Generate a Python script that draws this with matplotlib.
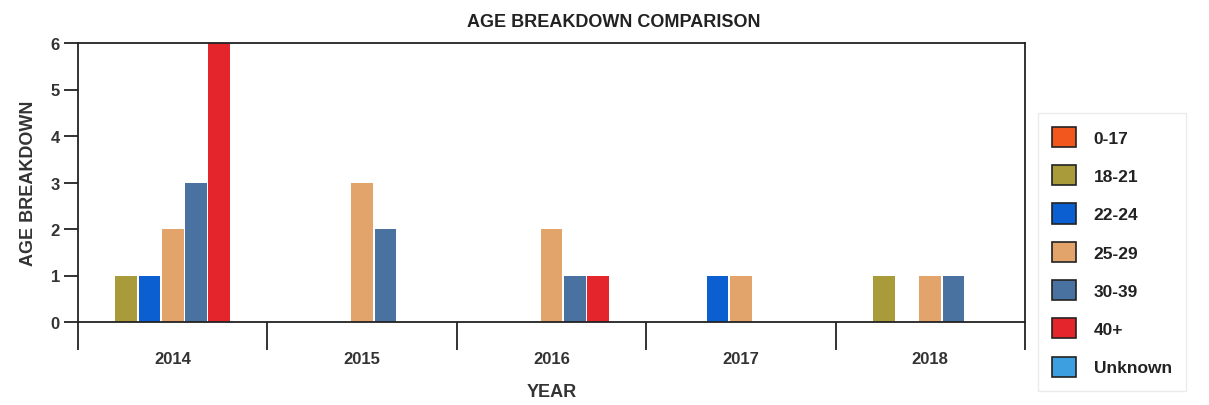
import matplotlib
matplotlib.use("Agg")
import matplotlib.pyplot as plt
import numpy as np

years = ["2014", "2015", "2016", "2017", "2018"]
groups = ["0-17", "18-21", "22-24", "25-29", "30-39", "40+", "Unknown"]
values = {
    "0-17":    [0, 0, 0, 0, 0],
    "18-21":   [1, 0, 0, 0, 1],
    "22-24":   [1, 0, 0, 1, 0],
    "25-29":   [2, 3, 2, 1, 1],
    "30-39":   [3, 2, 1, 0, 1],
    "40+":     [6, 0, 1, 0, 0],
    "Unknown": [0, 0, 0, 0, 0],
}
colors = ["#f2571e", "#a99a3a", "#0b5fd0", "#e3a46c", "#4a72a0", "#e4262c", "#3d9fe0"]

plt.rcParams['font.family'] = ['Liberation Sans', 'DejaVu Sans']
fig = plt.figure(figsize=(12.09, 4.06), dpi=100)
ax = fig.add_axes([78/1209, 1-323/406, (1025-78)/1209, (323-44)/406])

x = np.arange(len(years))
n = len(groups)
bw = 0.123
for i, g in enumerate(groups):
    ax.bar(x + (i - (n-1)/2) * bw, values[g], width=bw*0.93, color=colors[i],
           label=g, edgecolor='none', zorder=2)

ax.set_xlim(-0.5, 4.5)
ax.set_ylim(0, 6)
ax.set_yticks(range(0, 7))
ax.set_yticklabels([str(v) for v in range(0, 7)], fontsize=12, fontweight='bold', color='#333333')
ax.set_xticks(x)
ax.set_xticklabels(years, fontsize=12, fontweight='bold', color='#333333')
ax.set_xticks(np.arange(-0.5, 5.0, 1.0), minor=True)
ax.tick_params(axis='x', which='major', length=0, pad=21)
ax.tick_params(axis='x', which='minor', length=20, width=1.3, direction='out', color='#222222')
ax.tick_params(axis='y', length=10, width=1.3, color='#222222', pad=3)
for s in ax.spines.values():
    s.set_linewidth(1.3)
    s.set_color('#222222')

ax.set_ylabel("AGE BREAKDOWN", fontsize=13, fontweight='bold', color='#333333', labelpad=10)
ax.set_xlabel("YEAR", fontsize=13, fontweight='bold', color='#333333', labelpad=12)
fig.suptitle("AGE BREAKDOWN COMPARISON", x=0.508, y=0.965, fontsize=13, fontweight='bold', color='#222222')

handles = [plt.Rectangle((0, 0), 1, 1, facecolor=c, edgecolor='#222222', linewidth=1.2) for c in colors]
leg = fig.legend(handles, groups, loc='upper left', bbox_to_anchor=(1038/1209, 1-114/406),
                 frameon=True, fontsize=12.5, handlelength=1.4, handleheight=1.4,
                 labelspacing=1.05, borderpad=0.8, handletextpad=1.0, borderaxespad=0,
                 fancybox=False)
leg.get_frame().set_edgecolor('#e6e6e6')
leg.get_frame().set_linewidth(1.0)
for t in leg.get_texts():
    t.set_fontweight('bold')
    t.set_color('#222222')

fig.savefig("out.png", dpi=100)
